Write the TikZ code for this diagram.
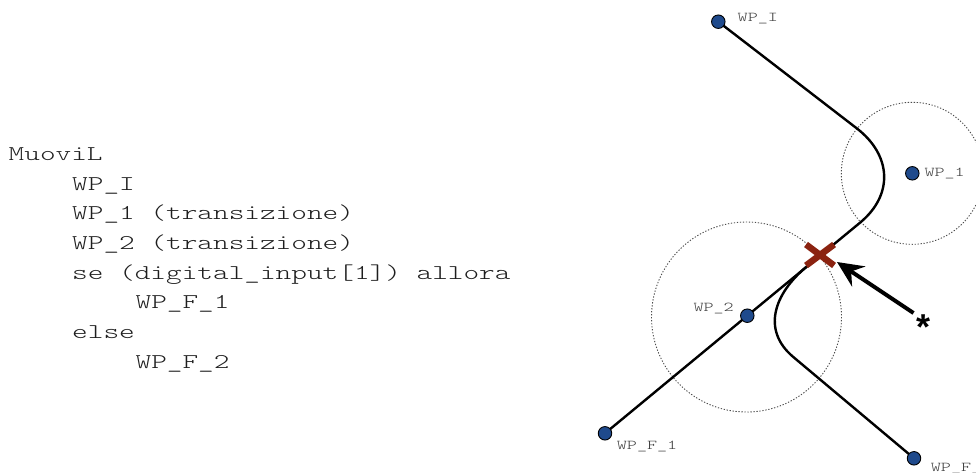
\documentclass[tikz,border=0pt]{standalone}
\usepackage{fontspec}
\newfontfamily\codefont[FakeStretch=1.42]{lmmonolt10-regular.otf}
\newfontfamily\labfont[FakeStretch=1.42]{lmmono10-regular.otf}
\newfontfamily\starfont{Liberation Sans}
\usetikzlibrary{arrows.meta,calc}
\definecolor{wpblue}{HTML}{1F4A8C}
\definecolor{xred}{HTML}{8B2310}
\definecolor{codegray}{HTML}{1E1E1E}
\definecolor{labgray}{HTML}{3A3A3A}
\tikzset{
  wp/.style={circle,draw=black,line width=0.9pt,fill=wpblue,minimum size=13.5pt,inner sep=0pt},
  wplabel/.style={anchor=base west,inner sep=0pt,text=labgray,font=\codefont\fontsize{13.5}{16}\selectfont},
  codeline/.style={anchor=base west,inner sep=0pt,text=codegray,font=\codefont\fontsize{21}{26}\selectfont},
  zone/.style={draw=black!70,line width=0.9pt,dash pattern=on 1.3pt off 1.7pt},
  trajectory/.style={draw=black,line width=2.4pt},
  cross/.style={draw=xred,line width=6.5pt},
  pointer/.style={draw=black,line width=4pt,-{Stealth[length=26pt,width=24pt,inset=9pt]}}
}
\begin{document}
\begin{tikzpicture}[x=1pt,y=-1pt]
\useasboundingbox (0,0) rectangle (976,472);
% code listing
\node[codeline] (c0) at (8.5,160.5) {MuoviL};
\node[codeline] (c1) at (72,190) {WP\_I};
\node[codeline] (c2) at (72,219.7) {WP\_1 (transizione)};
\node[codeline] (c3) at (72,249.4) {WP\_2 (transizione)};
\node[codeline] (c4) at (72,279.1) {se (digital\_input[1]) allora};
\node[codeline] (c5) at (135.4,308.8) {WP\_F\_1};
\node[codeline] (c6) at (72,338.5) {else};
\node[codeline] (c7) at (135.4,368.2) {WP\_F\_2};
% zones
\draw[zone] (912.3,173.3) circle (71);
\draw[zone] (746.5,317) circle (95);
% trajectory coordinates
\coordinate (pI) at (718.3,21.7);
\coordinate (a0) at (856.7,128.3);
\coordinate (a3) at (860,222.7);
\coordinate (p2) at (747.3,315.7);
\coordinate (pF1) at (605,433.3);
\coordinate (b0) at (806.7,266.6);
\coordinate (b3) at (793.3,357);
\coordinate (pF2) at (914,458.3);
\draw[trajectory,line join=round] (pI) -- (a0) .. controls (891.5,155.1) and (893.9,194.7) .. (a3) -- (p2) -- (pF1);
\draw[trajectory] (b0) .. controls (774.3,293.4) and (761.1,330) .. (b3) -- (pF2);
% waypoints
\node[wp] (wpI) at (pI) {};
\node[wp] (wp1) at (912.3,173.3) {};
\node[wp] (wp2) at (p2) {};
\node[wp] (wpF1) at (pF1) {};
\node[wp] (wpF2) at (pF2) {};
\node[wplabel] (lI) at (737.5,21.7) {WP\_I};
\node[wplabel] (l1) at (924.3,176.7) {WP\_1};
\node[wplabel] (l2) at (693.3,311.7) {WP\_2};
\node[wplabel] (lF1) at (616.7,449) {WP\_F\_1};
\node[wplabel] (lF2) at (930.7,471) {WP\_F\_2};
% decision cross
\coordinate (xc) at (820,255);
\draw[cross] ($(xc)+(-14,-10.5)$) -- ($(xc)+(14,10.5)$);
\draw[cross] ($(xc)+(14,-10.5)$) -- ($(xc)+(-14,10.5)$);
% star and pointer
\node[inner sep=0pt,font=\starfont\bfseries\fontsize{36}{36}\selectfont] (star) at (923,327) {*};
\coordinate (ptail) at (913.5,313);
\coordinate (ptip) at (837,262);
\draw[pointer] (ptail) -- (ptip);
\end{tikzpicture}
\end{document}
